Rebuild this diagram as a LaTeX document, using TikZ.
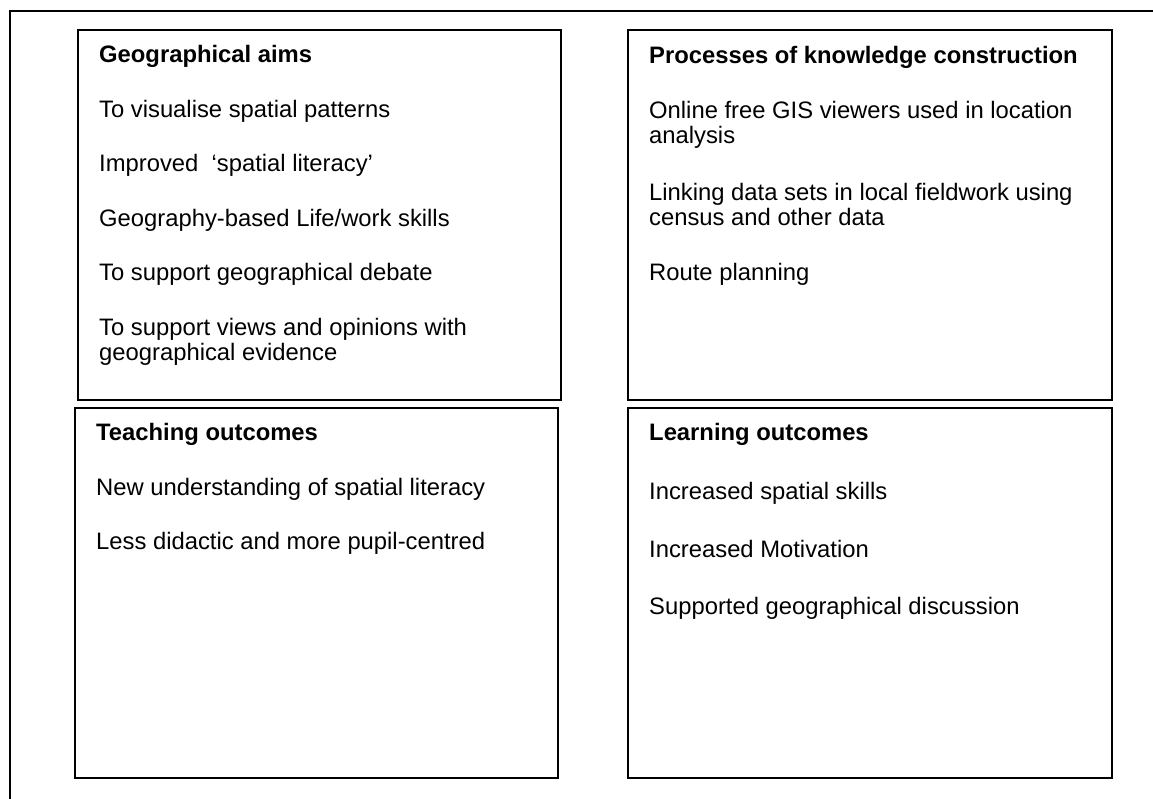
\documentclass[tikz,border=0pt]{standalone}
\usepackage{fontspec}
\setmainfont{Liberation Sans}

\begin{document}
\begin{tikzpicture}[x=1pt,y=-1pt]
    \tikzset{panel/.style={draw, line width=1.6pt, inner sep=0pt},
      head/.style={anchor=base west, inner sep=0pt, font=\fontsize{23.8}{25}\selectfont\bfseries},
      item/.style={anchor=base west, inner sep=0pt, font=\fontsize{23.8}{25}\selectfont}}
    \useasboundingbox (0,0) rectangle (1153,798);

    % outer frame, cut off at right and bottom
    \coordinate (frame tr) at (1170,11);
    \coordinate (frame tl) at (10,11);
    \coordinate (frame bl) at (10,815);
    \draw[line width=2pt] (frame tr) -- (frame tl) -- (frame bl);

    \node (aims) [panel, minimum width=483pt, minimum height=370pt] at (319.5,215) {};
    \node (procs) [panel, minimum width=484pt, minimum height=370pt] at (870,215) {};
    \node (teach) [panel, minimum width=483pt, minimum height=370pt] at (316.5,593) {};
    \node (learn) [panel, minimum width=484pt, minimum height=370pt] at (870,593) {};

    \node (aims h) [head] at (99,62) {Geographical aims};
    \node (aims 1) [item] at (99,117) {To visualise spatial patterns};
    \node (aims 2) [item] at (99,171.5) {Improved\ \ ‘spatial literacy’};
    \node (aims 3) [item] at (99,226) {Geography-based Life/work skills};
    \node (aims 4) [item] at (99,280) {To support geographical debate};
    \node (aims 5) [item] at (99,335) {To support views and opinions with};
    \node (aims 5b) [item] at (99,360) {geographical evidence};

    \node (procs h) [head] at (649,63) {Processes of knowledge construction};
    \node (procs 1) [item] at (649,118) {Online free GIS viewers used in location};
    \node (procs 1b) [item] at (649,143) {analysis};
    \node (procs 2) [item] at (649,200) {Linking data sets in local fieldwork using};
    \node (procs 2b) [item] at (649,225) {census and other data};
    \node (procs 3) [item] at (649,280) {Route planning};

    \node (teach h) [head] at (96,440) {Teaching outcomes};
    \node (teach 1) [item] at (96,495) {New understanding of spatial literacy};
    \node (teach 2) [item] at (96,549) {Less didactic and more pupil-centred};

    \node (learn h) [head] at (649,440) {Learning outcomes};
    \node (learn 1) [item] at (649,499) {Increased spatial skills};
    \node (learn 2) [item] at (649,557) {Increased Motivation};
    \node (learn 3) [item] at (649,614) {Supported geographical discussion};
  \end{tikzpicture}
\end{document}
